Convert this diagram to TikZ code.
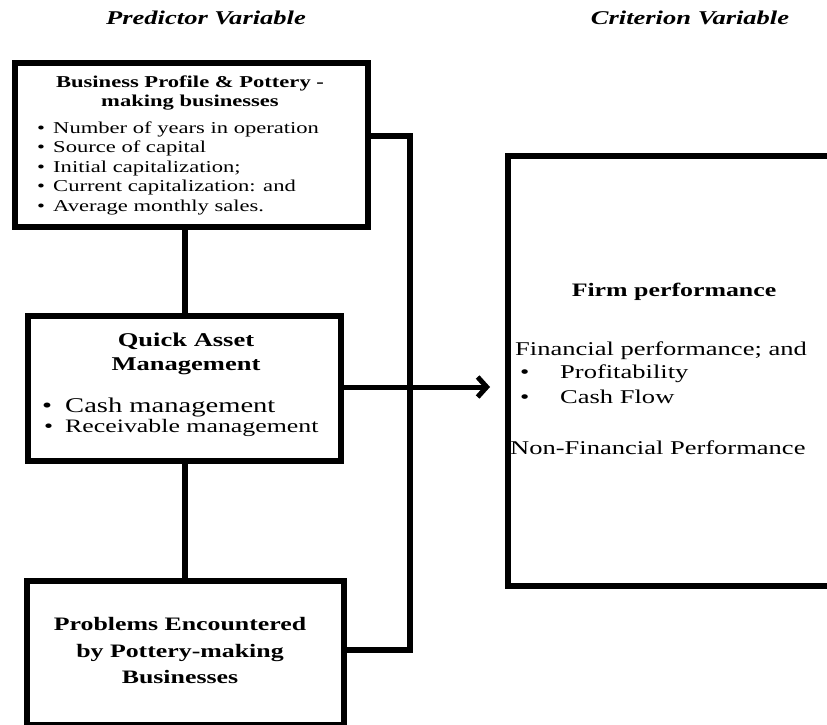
\documentclass[tikz,border=0pt]{standalone}
\usepackage{fontspec}
\setmainfont[FakeStretch=1.36]{Liberation Serif}
\usetikzlibrary{arrows.meta}
\newcommand\setfs[2]{\fontsize{#1}{#2}\selectfont}
\begin{document}
\begin{tikzpicture}[x=1pt,y=-1pt,
  box/.style={draw, line width=6pt, inner sep=0pt, anchor=north west},
  conn/.style={line width=6pt},
  arr/.style={line width=5pt, -{Straight Barb[length=9pt,width=20pt]}},
  txt/.style={inner sep=0pt, anchor=base west},
  ctxt/.style={inner sep=0pt, anchor=base},
  head/.style={ctxt, font=\setfs{19.5}{22}\bfseries\itshape},
  small/.style={font=\setfs{16.6}{19}},
  smallb/.style={font=\setfs{16.6}{19}\bfseries},
  mid/.style={font=\setfs{19.5}{22}},
  midb/.style={font=\setfs{19.5}{22}\bfseries}]
\path[use as bounding box] (0,0) rectangle (827,725);
\clip (0,0) rectangle (827,725);
\fill[white] (0,0) rectangle (827,725);

% headings
\node[head] (hp) at (206,25) {Predictor Variable};
\node[head] (hc) at (690,25) {Criterion Variable};

% boxes
\node[box, minimum width=353pt, minimum height=164pt] (top) at (12,60) {};
\node[box, minimum width=313pt, minimum height=145pt] (quick) at (25,313) {};
\node[box, minimum width=317pt, minimum height=144pt] (prob) at (24,578) {};
\node[box, minimum width=350pt, minimum height=430pt] (firm) at (505,153) {};

% top box text
\node[ctxt, smallb] (t1) at (190,87) {Business Profile \& Pottery -};
\node[ctxt, smallb] (t2) at (190,106) {making businesses};
\foreach \y/\t [count=\i] in {133/Number of years in operation,
    152.5/Source of capital, 172/Initial capitalization;,
    191.5/Current capitalization: and, 211/Average monthly sales.}{
  \node[txt, small] (tb\i) at (37,\y) {\textbullet};
  \node[txt, small] (tl\i) at (53,\y) {\t};
}

% quick box text
\node[ctxt, midb] (q1) at (186,346) {Quick Asset};
\node[ctxt, midb] (q2) at (186,370) {Management};
\node[txt, font=\setfs{21}{23}] (qb1) at (42,412) {\textbullet};
\node[txt, font=\setfs{21}{23}] (ql1) at (65,412) {Cash management};
\node[txt, font=\setfs{19}{21}] (qb2) at (44,432) {\textbullet};
\node[txt, font=\setfs{19}{21}] (ql2) at (65,432) {Receivable management};

% problems box text
\node[ctxt, font=\setfs{19}{21}\bfseries] (p1) at (180,630) {Problems Encountered};
\node[ctxt, font=\setfs{19}{21}\bfseries] (p2) at (180,657) {by Pottery-making};
\node[ctxt, font=\setfs{19}{21}\bfseries] (p3) at (180,683) {Businesses};

% firm box text
\node[ctxt, font=\setfs{19}{21}\bfseries] (f0) at (674,296) {Firm performance};
\node[txt, mid] (f1) at (515,355) {Financial performance; and};
\node[txt, mid] (fb1) at (520,378) {\textbullet};
\node[txt, mid] (f2) at (560,378) {Profitability};
\node[txt, mid] (fb2) at (520,403) {\textbullet};
\node[txt, mid] (f3) at (560,403) {Cash Flow};
\node[txt, mid] (f4) at (510,454) {Non-Financial Performance};

% connectors
\coordinate (c1) at (410,136);
\coordinate (c2) at (410,650);
\coordinate (tip) at (490,387);
\draw[conn] (quick.north |- top.south) -- (quick.north);
\draw[conn] (quick.south) -- (prob.north -| quick.south);
\draw[conn] (top.east |- c1) -- (c1) -- (c2) -- (prob.east |- c2);
\draw[arr] (quick.east |- tip) -- (tip);
\end{tikzpicture}
\end{document}
